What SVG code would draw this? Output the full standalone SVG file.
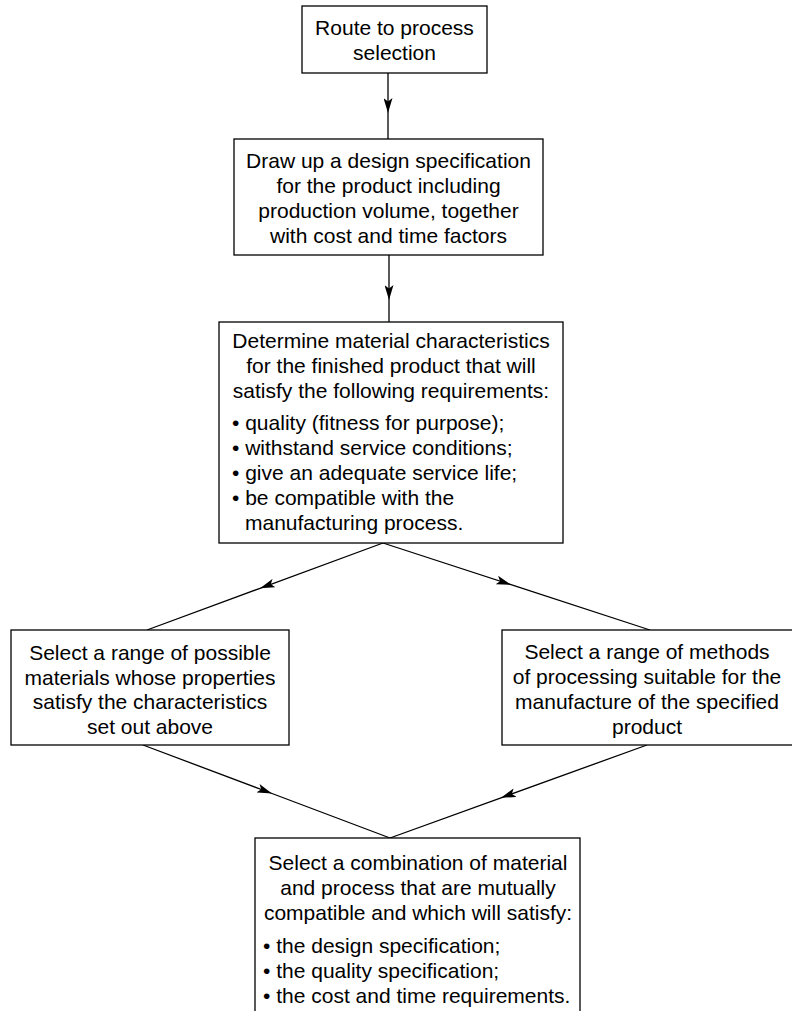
<svg xmlns="http://www.w3.org/2000/svg" width="792" height="1011" viewBox="0 0 792 1011">
<defs>
<marker id="ah" viewBox="0 0 15 9" refX="15" refY="4.5" markerWidth="15" markerHeight="9" markerUnits="userSpaceOnUse" orient="auto">
<path d="M0,0 L15,4.5 L0,9 L3.5,4.5 Z" fill="#000"/>
</marker>
<style>
.box{fill:#fff;stroke:#000;stroke-width:1.3}
.t{font-family:"Liberation Sans",Arial,sans-serif;font-size:21px;fill:#000}
.c{text-anchor:middle}
.e{fill:none;stroke:#000;stroke-width:1.3;marker-mid:url(#ah)}
</style>
</defs>
<rect width="792" height="1011" fill="#fff"/>
<g id="connectors">
<path class="e" d="M388,73 L388,113 L388,139"/>
<path class="e" d="M389,255 L389,300 L389,322"/>
<path class="e" d="M383,543 L260,588.3 L147,630"/>
<path class="e" d="M383,543 L511,584.7 L650,630"/>
<path class="e" d="M143,745 L272,793.5 L390,838"/>
<path class="e" d="M647,745 L501,797.8 L390,838"/>
</g>
<g id="n1">
<rect class="box" x="302" y="6" width="185" height="67"/>
<text class="t c" x="394.5"><tspan x="394.5" y="35">Route to process</tspan><tspan x="394.5" y="60">selection</tspan></text>
</g>
<g id="n2">
<rect class="box" x="234" y="139" width="309" height="116"/>
<text class="t c"><tspan x="388.5" y="168">Draw up a design specification</tspan><tspan x="388.5" y="193">for the product including</tspan><tspan x="388.5" y="218">production volume, together</tspan><tspan x="388.5" y="243">with cost and time factors</tspan></text>
</g>
<g id="n3">
<rect class="box" x="219" y="322" width="344" height="221"/>
<text class="t c"><tspan x="391" y="348">Determine material characteristics</tspan><tspan x="391" y="373">for the finished product that will</tspan><tspan x="391" y="398">satisfy the following requirements:</tspan></text>
<text class="t"><tspan x="232" y="430">• quality (fitness for purpose);</tspan><tspan x="232" y="455">• withstand service conditions;</tspan><tspan x="232" y="480">• give an adequate service life;</tspan><tspan x="232" y="505">• be compatible with the</tspan><tspan x="245" y="530">manufacturing process.</tspan></text>
</g>
<g id="n4">
<rect class="box" x="11" y="630" width="278" height="115"/>
<text class="t c"><tspan x="150" y="660">Select a range of possible</tspan><tspan x="150" y="685">materials whose properties</tspan><tspan x="150" y="709">satisfy the characteristics</tspan><tspan x="150" y="734">set out above</tspan></text>
</g>
<g id="n5">
<rect class="box" x="502" y="630" width="296" height="115"/>
<text class="t c"><tspan x="647" y="659">Select a range of methods</tspan><tspan x="647" y="684">of processing suitable for the</tspan><tspan x="647" y="709">manufacture of the specified</tspan><tspan x="647" y="734">product</tspan></text>
</g>
<g id="n6">
<rect class="box" x="255" y="838" width="325" height="180"/>
<text class="t c"><tspan x="418" y="870">Select a combination of material</tspan><tspan x="418" y="895">and process that are mutually</tspan><tspan x="418" y="920">compatible and which will satisfy:</tspan></text>
<text class="t"><tspan x="263" y="953">• the design specification;</tspan><tspan x="263" y="978">• the quality specification;</tspan><tspan x="263" y="1003">• the cost and time requirements.</tspan></text>
</g>
</svg>
